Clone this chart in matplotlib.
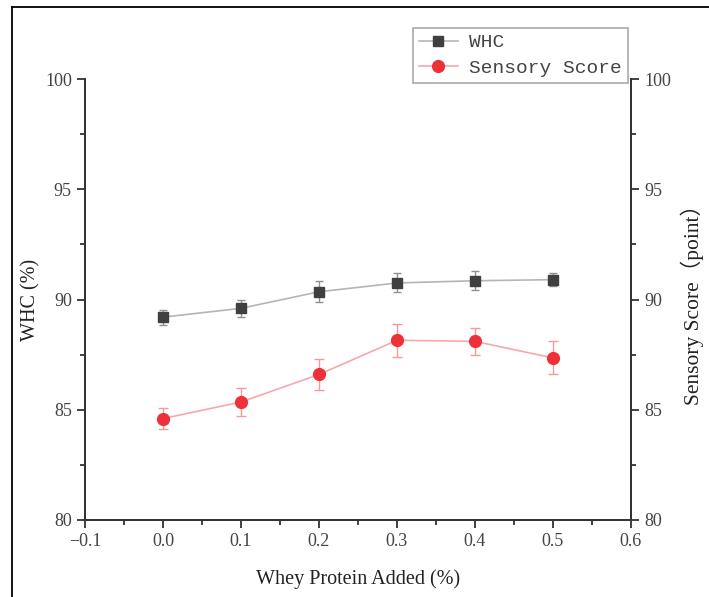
import matplotlib
matplotlib.use("Agg")
import matplotlib.pyplot as plt
from matplotlib.ticker import MultipleLocator
from matplotlib.lines import Line2D

x = [0.0, 0.1, 0.2, 0.3, 0.4, 0.5]
whc = [89.2, 89.6, 90.35, 90.75, 90.85, 90.9]
whc_err = [0.34, 0.38, 0.48, 0.43, 0.43, 0.29]
sensory = [84.6, 85.35, 86.6, 88.15, 88.1, 87.35]
sensory_err = [0.47, 0.64, 0.72, 0.76, 0.63, 0.75]
x_ticks = [-0.1, 0.0, 0.1, 0.2, 0.3, 0.4, 0.5, 0.6]
x_tick_labels = ['\u22120.1', '0.0', '0.1', '0.2', '0.3', '0.4', '0.5', '0.6']
y_ticks = [80, 85, 90, 95, 100]
y_tick_labels = ['80', '85', '90', '95', '100']

serif = ['Liberation Serif', 'Noto Sans CJK SC']
tick_color = '#444444'
spine_color = '#333333'

fig = plt.figure(figsize=(7.09, 5.97), dpi=100)
ax = fig.add_axes([85/709, 1-520/597, 546/709, 441/597])
ax2 = ax.twinx()

ax.errorbar(x, whc, yerr=whc_err, color='#b5b5b5', lw=1.2, marker='s', ms=7.5,
            mfc='#404040', mec='#404040', ecolor='#909090', elinewidth=1, capsize=3, capthick=1, zorder=3)
ax2.errorbar(x, sensory, yerr=sensory_err, color='#f7a8a8', lw=1.2, marker='o', ms=8.5,
             mfc='#ee3038', mec='#ee3038', ecolor='#f59a9a', elinewidth=1, capsize=3.5, capthick=1, zorder=3)

for a in (ax, ax2):
    a.set_ylim(80, 100)
    a.yaxis.set_minor_locator(MultipleLocator(2.5))
    a.spines['top'].set_visible(False)
    for s in a.spines.values():
        s.set_color(spine_color)
        s.set_linewidth(1.3)
    a.tick_params(which='major', direction='out', length=6, width=1.3, color=spine_color,
                  labelsize=13, labelcolor=tick_color)
    a.tick_params(which='minor', direction='out', length=3.5, width=1.3, color=spine_color)

ax.set_xlim(-0.1, 0.6)
ax.xaxis.set_minor_locator(MultipleLocator(0.05))
ax.set_xticks(x_ticks)
ax.set_xticklabels(x_tick_labels)
ax.set_yticks(y_ticks)
ax.set_yticklabels(y_tick_labels)
ax2.set_yticks(y_ticks)
ax2.set_yticklabels(y_tick_labels)
for a in (ax, ax2):
    for lab in a.get_xticklabels() + a.get_yticklabels():
        lab.set_family(serif)
        lab.set_fontsize(13)
        lab.set_color(tick_color)

ax.set_xlabel('Whey Protein Added (%)', family=serif, fontsize=14.5, color='#222222', labelpad=14)
ax.set_ylabel('WHC (%)', family=serif, fontsize=14.5, color='#222222', labelpad=3)
ax2.set_ylabel('Sensory Score（point）', family=serif, fontsize=15.5, color='#222222', labelpad=7)

handles = [
    Line2D([], [], color='#b5b5b5', lw=1.2, marker='s', ms=7.5, mfc='#404040', mec='#404040'),
    Line2D([], [], color='#f7a8a8', lw=1.2, marker='o', ms=8.5, mfc='#ee3038', mec='#ee3038'),
]
leg = fig.legend(handles, ['WHC', 'Sensory Score'], loc='upper right',
                 bbox_to_anchor=(628/709, 1-28/597), bbox_transform=fig.transFigure,
                 prop={'family': ['Liberation Mono'], 'size': 14}, frameon=True, fancybox=False,
                 edgecolor='#aaaaaa', framealpha=1, borderpad=0.3, handlelength=2.0,
                 labelspacing=0.4, handletextpad=0.6, borderaxespad=0)
for t in leg.get_texts():
    t.set_color('#444444')
leg.get_frame().set_linewidth(1.2)

# outer frame lines
fig.add_artist(Line2D([12/709, 12/709], [0, 1-7/597], color='black', lw=1.3, transform=fig.transFigure))
fig.add_artist(Line2D([12/709, 1], [1-7/597, 1-7/597], color='black', lw=1.3, transform=fig.transFigure))

fig.savefig('out.png', dpi=100)
